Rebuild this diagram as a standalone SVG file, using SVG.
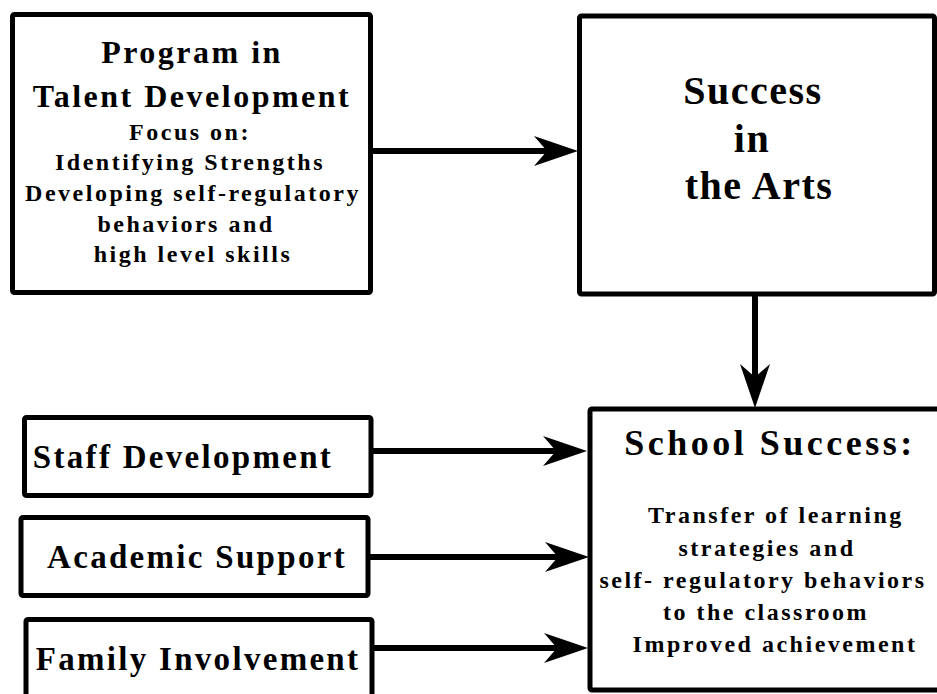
<svg xmlns="http://www.w3.org/2000/svg" xmlns:xlink="http://www.w3.org/1999/xlink" width="937" height="694" viewBox="0 0 937 694">
  <style>
    .box { fill: #ffffff; stroke: #000000; stroke-width: 5; }
    .wire { stroke: #000000; stroke-width: 6; fill: none; }
    .head { fill: #000000; }
    text { font-family: "Liberation Serif", "Times New Roman", serif; font-weight: bold; fill: #000000; text-anchor: middle; }
    .h1 { font-size: 32px; letter-spacing: 2.5px; }
    .h2 { font-size: 40px; letter-spacing: 1.5px; }
    .h3 { font-size: 36px; letter-spacing: 3.5px; }
    .lbl { font-size: 33px; letter-spacing: 2.3px; }
    .body { font-size: 24px; letter-spacing: 2.5px; }
  </style>
  <defs>
    <!-- arrowhead with swept-back barbs, tip at the origin, pointing +x -->
    <path id="ah" class="head" d="M0,0 L-44,-15 L-31,0 L-44,15 Z"/>
  </defs>

  <rect x="0" y="0" width="937" height="694" fill="#ffffff"/>

  <g id="program">
    <rect class="box" x="12.5" y="14.5" width="358" height="278" rx="2"/>
    <text class="h1" x="192" y="63">Program in</text>
    <text class="h1" x="192" y="107">Talent Development</text>
    <text class="body" x="190" y="140">Focus on:</text>
    <text class="body" x="190" y="170">Identifying Strengths</text>
    <text class="body" x="193" y="201">Developing self-regulatory</text>
    <text class="body" x="186" y="232">behaviors and</text>
    <text class="body" x="193" y="262">high level skills</text>
  </g>

  <g id="arts">
    <rect class="box" x="579.5" y="16" width="355" height="278" rx="2"/>
    <text class="h2" x="753" y="104">Success</text>
    <text class="h2" x="752" y="152">in</text>
    <text class="h2" x="759" y="199">the Arts</text>
  </g>

  <g id="school">
    <rect class="box" x="590" y="409" width="362" height="281" rx="2"/>
    <text class="h3" x="770" y="455">School Success:</text>
    <text class="body" x="776" y="523">Transfer of learning</text>
    <text class="body" x="767" y="556">strategies and</text>
    <text class="body" x="763" y="588">self- regulatory behaviors</text>
    <text class="body" x="766" y="620">to the classroom</text>
    <text class="body" x="775" y="652">Improved achievement</text>
  </g>

  <g id="staff">
    <rect class="box" x="24.5" y="417.5" width="346.5" height="78" rx="2"/>
    <text class="lbl" x="183" y="468">Staff Development</text>
  </g>

  <g id="academic">
    <rect class="box" x="21" y="517.5" width="347" height="78" rx="2"/>
    <text class="lbl" x="197" y="568">Academic Support</text>
  </g>

  <g id="family">
    <rect class="box" x="26" y="619.5" width="346" height="100" rx="2"/>
    <text class="lbl" x="198" y="670">Family Involvement</text>
  </g>

  <g id="connectors">
    <line class="wire" x1="372" y1="151" x2="555" y2="151"/>
    <use xlink:href="#ah" x="578" y="151"/>

    <line class="wire" x1="755" y1="294" x2="755" y2="385"/>
    <use xlink:href="#ah" transform="translate(755,408) rotate(90)"/>

    <line class="wire" x1="373" y1="451" x2="562" y2="451"/>
    <use xlink:href="#ah" x="587" y="451"/>

    <line class="wire" x1="370" y1="557" x2="565" y2="557"/>
    <use xlink:href="#ah" x="589" y="557"/>

    <line class="wire" x1="374" y1="648" x2="564" y2="648"/>
    <use xlink:href="#ah" x="588" y="648"/>
  </g>
</svg>
